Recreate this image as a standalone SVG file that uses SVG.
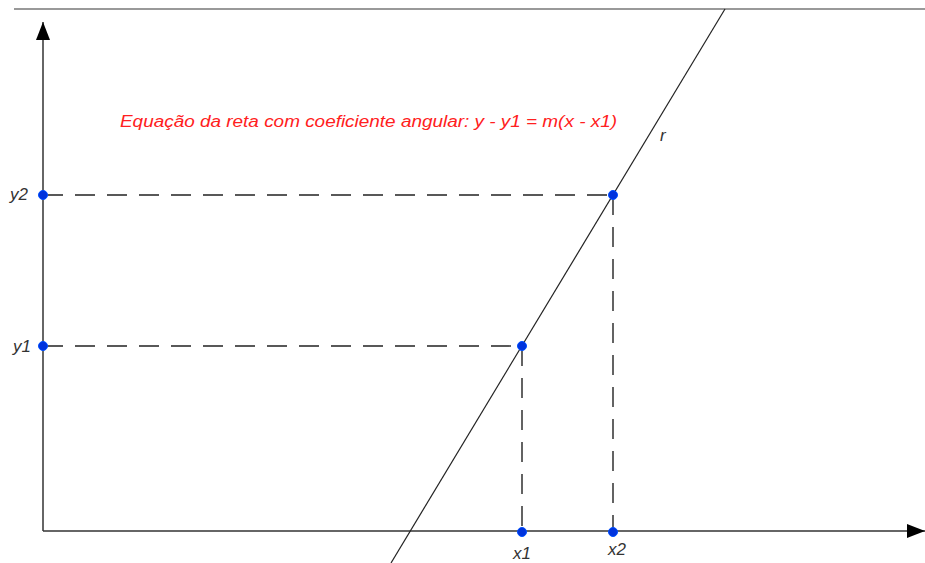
<svg xmlns="http://www.w3.org/2000/svg" width="925" height="563" viewBox="0 0 925 563">
<style>
.axis{stroke:#333;stroke-width:1.5;fill:none}
.dash{stroke:#222;stroke-width:1.4;stroke-dasharray:20 12;fill:none}
.pt{fill:#0033dd;stroke:#0050ff;stroke-width:1}
.lbl{font-family:"Liberation Sans",Arial,sans-serif;font-style:italic;font-size:17px;fill:#333}
.eq{font-family:"Liberation Sans",Arial,sans-serif;font-style:italic;font-size:16px;fill:#ff2020}
</style>
<defs>
<marker id="arr" markerWidth="20" markerHeight="14" refX="18" refY="7" orient="auto" markerUnits="userSpaceOnUse">
<path d="M0,0 L18,7 L0,14 Z" fill="#000"/>
</marker>
</defs>
<rect width="925" height="563" fill="#fff"/>
<g id="connectors">
<line x1="14" y1="9" x2="925" y2="9" stroke="#777" stroke-width="1.5"/>
<line class="axis" x1="43" y1="531" x2="43" y2="22" marker-end="url(#arr)"/>
<line class="axis" x1="43" y1="531" x2="925" y2="531" marker-end="url(#arr)"/>
<line x1="725" y1="9" x2="391" y2="563" stroke="#222" stroke-width="1.2"/>
<line class="dash" x1="43" y1="195" x2="613" y2="195"/>
<line class="dash" x1="43" y1="346" x2="522" y2="346"/>
<line class="dash" x1="522" y1="346" x2="522" y2="531"/>
<line class="dash" x1="613" y1="195" x2="613" y2="531"/>
</g>
<g id="p-y2"><circle class="pt" cx="43" cy="195" r="4.5"/><text class="lbl" x="10" y="200">y2</text></g>
<g id="p-y1"><circle class="pt" cx="43" cy="346" r="4.5"/><text class="lbl" x="13" y="352">y1</text></g>
<g id="p1"><circle class="pt" cx="522" cy="346" r="4.5"/></g>
<g id="p2"><circle class="pt" cx="613" cy="195" r="4.5"/></g>
<g id="p-x1"><circle class="pt" cx="522" cy="532" r="4.5"/><text class="lbl" x="522" y="559" text-anchor="middle">x1</text></g>
<g id="p-x2"><circle class="pt" cx="613" cy="532" r="4.5"/><text class="lbl" x="617" y="555" text-anchor="middle">x2</text></g>
<g id="label-r"><text class="lbl" x="660" y="141">r</text></g>
<g id="equation"><text class="eq" x="120" y="127" textLength="497" lengthAdjust="spacingAndGlyphs">Equação da reta com coeficiente angular: y - y1 = m(x - x1)</text></g>
</svg>
